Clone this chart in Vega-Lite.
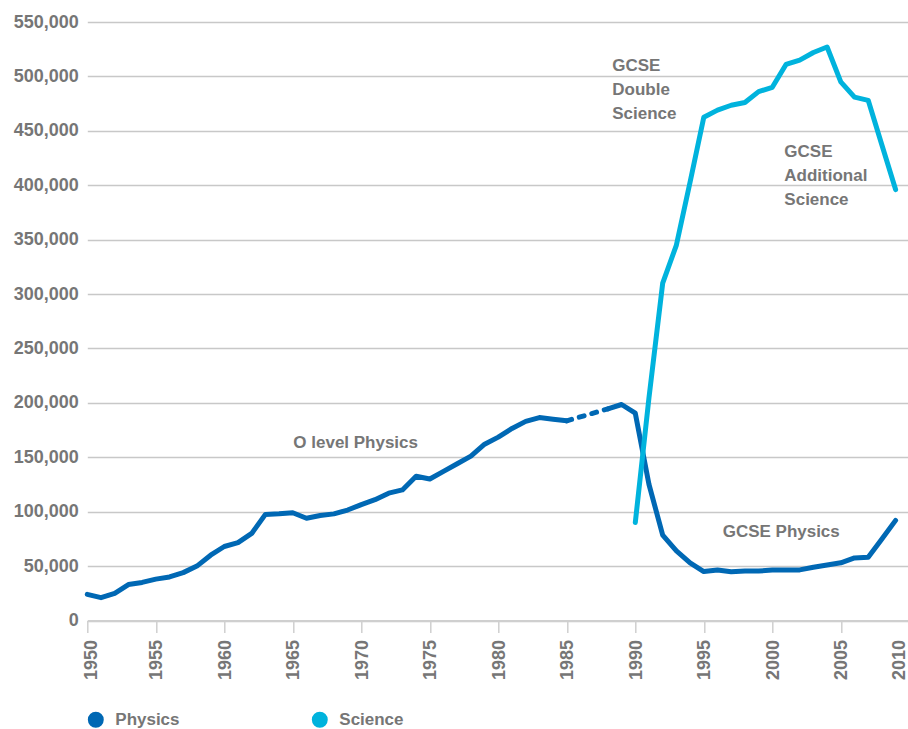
{
  "$schema": "https://vega.github.io/schema/vega-lite/v6.json",
  "width": 822,
  "height": 598.5,
  "autosize": {"type": "none"},
  "padding": {"left": 87.3, "top": 22, "right": 0, "bottom": 109},
  "background": "white",
  "config": {
    "view": {"stroke": null},
    "font": "Liberation Sans",
    "axis": {
      "labelFont": "Liberation Sans",
      "labelFontWeight": "bold",
      "labelColor": "#767676",
      "labelFontSize": 18,
      "title": null
    },
    "legend": {
      "labelFont": "Liberation Sans",
      "labelFontWeight": "bold",
      "labelColor": "#767676",
      "labelFontSize": 17
    }
  },
  "datasets": {
    "lines": [
      {"year": 1950, "value": 24000, "series": "Physics", "seg": "a"},
      {"year": 1951, "value": 21000, "series": "Physics", "seg": "a"},
      {"year": 1952, "value": 25000, "series": "Physics", "seg": "a"},
      {"year": 1953, "value": 33000, "series": "Physics", "seg": "a"},
      {"year": 1954, "value": 35000, "series": "Physics", "seg": "a"},
      {"year": 1955, "value": 38000, "series": "Physics", "seg": "a"},
      {"year": 1956, "value": 40000, "series": "Physics", "seg": "a"},
      {"year": 1957, "value": 44000, "series": "Physics", "seg": "a"},
      {"year": 1958, "value": 50000, "series": "Physics", "seg": "a"},
      {"year": 1959, "value": 60000, "series": "Physics", "seg": "a"},
      {"year": 1960, "value": 68000, "series": "Physics", "seg": "a"},
      {"year": 1961, "value": 71500, "series": "Physics", "seg": "a"},
      {"year": 1962, "value": 80000, "series": "Physics", "seg": "a"},
      {"year": 1963, "value": 97500, "series": "Physics", "seg": "a"},
      {"year": 1964, "value": 98000, "series": "Physics", "seg": "a"},
      {"year": 1965, "value": 99000, "series": "Physics", "seg": "a"},
      {"year": 1966, "value": 94000, "series": "Physics", "seg": "a"},
      {"year": 1967, "value": 96500, "series": "Physics", "seg": "a"},
      {"year": 1968, "value": 98000, "series": "Physics", "seg": "a"},
      {"year": 1969, "value": 101500, "series": "Physics", "seg": "a"},
      {"year": 1970, "value": 106500, "series": "Physics", "seg": "a"},
      {"year": 1971, "value": 111000, "series": "Physics", "seg": "a"},
      {"year": 1972, "value": 117000, "series": "Physics", "seg": "a"},
      {"year": 1973, "value": 120000, "series": "Physics", "seg": "a"},
      {"year": 1974, "value": 132500, "series": "Physics", "seg": "a"},
      {"year": 1975, "value": 130000, "series": "Physics", "seg": "a"},
      {"year": 1976, "value": 137000, "series": "Physics", "seg": "a"},
      {"year": 1977, "value": 144000, "series": "Physics", "seg": "a"},
      {"year": 1978, "value": 151000, "series": "Physics", "seg": "a"},
      {"year": 1979, "value": 162000, "series": "Physics", "seg": "a"},
      {"year": 1980, "value": 168500, "series": "Physics", "seg": "a"},
      {"year": 1981, "value": 176500, "series": "Physics", "seg": "a"},
      {"year": 1982, "value": 183000, "series": "Physics", "seg": "a"},
      {"year": 1983, "value": 186500, "series": "Physics", "seg": "a"},
      {"year": 1984, "value": 185000, "series": "Physics", "seg": "a"},
      {"year": 1985, "value": 183500, "series": "Physics", "seg": "a"},
      {"year": 1988, "value": 194500, "series": "Physics", "seg": "b"},
      {"year": 1989, "value": 198500, "series": "Physics", "seg": "b"},
      {"year": 1990, "value": 190500, "series": "Physics", "seg": "b"},
      {"year": 1991, "value": 125000, "series": "Physics", "seg": "b"},
      {"year": 1992, "value": 78500, "series": "Physics", "seg": "b"},
      {"year": 1993, "value": 64000, "series": "Physics", "seg": "b"},
      {"year": 1994, "value": 53000, "series": "Physics", "seg": "b"},
      {"year": 1995, "value": 45000, "series": "Physics", "seg": "b"},
      {"year": 1996, "value": 46500, "series": "Physics", "seg": "b"},
      {"year": 1997, "value": 44800, "series": "Physics", "seg": "b"},
      {"year": 1998, "value": 45500, "series": "Physics", "seg": "b"},
      {"year": 1999, "value": 45500, "series": "Physics", "seg": "b"},
      {"year": 2000, "value": 46300, "series": "Physics", "seg": "b"},
      {"year": 2001, "value": 46500, "series": "Physics", "seg": "b"},
      {"year": 2002, "value": 46500, "series": "Physics", "seg": "b"},
      {"year": 2003, "value": 49000, "series": "Physics", "seg": "b"},
      {"year": 2004, "value": 51000, "series": "Physics", "seg": "b"},
      {"year": 2005, "value": 53000, "series": "Physics", "seg": "b"},
      {"year": 2006, "value": 57500, "series": "Physics", "seg": "b"},
      {"year": 2007, "value": 58200, "series": "Physics", "seg": "b"},
      {"year": 2008, "value": 75000, "series": "Physics", "seg": "b"},
      {"year": 2009, "value": 92000, "series": "Physics", "seg": "b"},
      {"year": 1990, "value": 90000, "series": "Science", "seg": "s"},
      {"year": 1991, "value": 205000, "series": "Science", "seg": "s"},
      {"year": 1992, "value": 310000, "series": "Science", "seg": "s"},
      {"year": 1993, "value": 345000, "series": "Science", "seg": "s"},
      {"year": 1994, "value": 403000, "series": "Science", "seg": "s"},
      {"year": 1995, "value": 462500, "series": "Science", "seg": "s"},
      {"year": 1996, "value": 469000, "series": "Science", "seg": "s"},
      {"year": 1997, "value": 473500, "series": "Science", "seg": "s"},
      {"year": 1998, "value": 476000, "series": "Science", "seg": "s"},
      {"year": 1999, "value": 486000, "series": "Science", "seg": "s"},
      {"year": 2000, "value": 490000, "series": "Science", "seg": "s"},
      {"year": 2001, "value": 511000, "series": "Science", "seg": "s"},
      {"year": 2002, "value": 515000, "series": "Science", "seg": "s"},
      {"year": 2003, "value": 522000, "series": "Science", "seg": "s"},
      {"year": 2004, "value": 527000, "series": "Science", "seg": "s"},
      {"year": 2005, "value": 495000, "series": "Science", "seg": "s"},
      {"year": 2006, "value": 481000, "series": "Science", "seg": "s"},
      {"year": 2007, "value": 478000, "series": "Science", "seg": "s"},
      {"year": 2008, "value": 437000, "series": "Science", "seg": "s"},
      {"year": 2009, "value": 396000, "series": "Science", "seg": "s"}
    ],
    "dashed": [
      {"year": 1985, "value": 183500, "series": "Physics"},
      {"year": 1988, "value": 194500, "series": "Physics"}
    ],
    "notes": [
      {"year": 1988.32, "value": 505250, "label": "GCSE\nDouble\nScience"},
      {"year": 2000.88, "value": 426200, "label": "GCSE\nAdditional\nScience"},
      {"year": 1965.04, "value": 158250, "label": "O level Physics"},
      {"year": 1996.38, "value": 77000, "label": "GCSE Physics"}
    ]
  },
  "layer": [
    {
      "data": {"name": "lines"},
      "mark": {"type": "line", "strokeWidth": 5, "strokeCap": "round", "strokeJoin": "round"},
      "encoding": {
        "x": {
          "field": "year", "type": "quantitative",
          "scale": {"domain": [1950, 2010], "nice": false, "zero": false},
          "axis": {
            "values": [1950, 1955, 1960, 1965, 1970, 1975, 1980, 1985, 1990, 1995, 2000, 2005, 2010],
            "format": "d",
            "labelAngle": -90,
            "labelAlign": "right",
            "labelBaseline": "middle",
            "grid": false,
            "domainColor": "#cfcfcf",
            "domainWidth": 2,
            "tickColor": "#cfcfcf",
            "tickWidth": 1.5,
            "tickSize": 12,
            "labelPadding": 7,
            "labelOverlap": false,
            "labelFlush": false,
            "labelOffset": {
              "condition": [
                {"test": "datum.value === 2010", "value": -10},
                {"test": "datum.value === 1950", "value": 4}
              ],
              "value": 1
            }
          }
        },
        "y": {
          "field": "value", "type": "quantitative",
          "scale": {"domain": [0, 550000], "nice": false},
          "axis": {
            "values": [0, 50000, 100000, 150000, 200000, 250000, 300000, 350000, 400000, 450000, 500000, 550000],
            "format": ",d",
            "domain": false,
            "ticks": false,
            "tickSize": 0,
            "labelPadding": 9,
            "gridColor": "#c8c8c8",
            "gridWidth": 1.3
          }
        },
        "color": {
          "field": "series", "type": "nominal",
          "scale": {"domain": ["Physics", "Science"], "range": ["#0068b4", "#00b3dd"]},
          "legend": {
            "orient": "none",
            "legendX": 0,
            "legendY": 689,
            "direction": "horizontal",
            "title": null,
            "symbolType": "circle",
            "symbolSize": 254,
            "labelOffset": 11,
            "columnPadding": 131,
            "padding": 0,
            "symbolStrokeWidth": 0,
            "encode": {
              "symbols": {
                "update": {
                  "fill": {"scale": "color", "field": "value"},
                  "fillOpacity": {"value": 1},
                  "strokeWidth": {"value": 0}
                }
              }
            }
          }
        },
        "detail": {"field": "seg"}
      }
    },
    {
      "data": {"name": "dashed"},
      "mark": {"type": "line", "strokeWidth": 5, "strokeCap": "round", "strokeDash": [5, 8], "color": "#0068b4"},
      "encoding": {
        "x": {"field": "year", "type": "quantitative"},
        "y": {"field": "value", "type": "quantitative"}
      }
    },
    {
      "data": {"name": "notes"},
      "mark": {
        "type": "text",
        "align": "left",
        "baseline": "alphabetic",
        "lineBreak": "\n",
        "lineHeight": 24,
        "font": "Liberation Sans",
        "fontWeight": "bold",
        "fontSize": 17,
        "color": "#767676"
      },
      "encoding": {
        "x": {"field": "year", "type": "quantitative"},
        "y": {"field": "value", "type": "quantitative"},
        "text": {"field": "label"}
      }
    }
  ]
}
